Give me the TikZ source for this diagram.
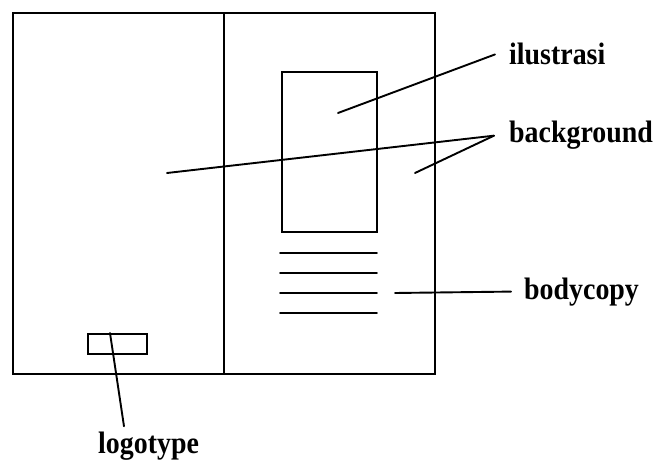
\documentclass[tikz,border=0pt]{standalone}
\usepackage{fontspec}
\setmainfont{Liberation Serif}
\newcommand{\tagtext}[1]{\scalebox{0.9}[1]{\bfseries\fontsize{31}{33}\selectfont #1}}
\begin{document}
\begin{tikzpicture}[x=1pt,y=-1pt,
  ink/.style={line width=1.8pt,line cap=round},
  leader/.style={line width=1.9pt,line cap=round},
  tag/.style={anchor=base west,inner ysep=1pt}]
\useasboundingbox (0,0) rectangle (659,465);

% spread: two pages side by side
\draw[ink] (13,13) rectangle (435,374);
\draw[ink] (224,13) -- (224,374);

% illustration block and body copy lines on the right page
\draw[ink] (282,72) rectangle (377,232);
\foreach \y in {253,273,293,313}
  \draw[ink] (280,\y) -- (377,\y);

% logotype block on the left page
\draw[ink] (88,334) rectangle (147,354);

% labels
\node[tag,inner xsep=14pt] (ilu)  at (495,65)  {\tagtext{ilustrasi}};
\node[tag,inner xsep=15pt] (bg)   at (494,143) {\tagtext{background}};
\node[tag,inner xsep=13pt] (body) at (511,299) {\tagtext{bodycopy}};
\node[tag,inner xsep=0pt,inner ysep=5pt] (logo) at (98,453) {\tagtext{logotype}};

% leader start points
\coordinate (pIlu)  at (338,113);
\coordinate (pBgL)  at (167,173);
\coordinate (pBgR)  at (415,173);
\coordinate (pBody) at (395,293);
\coordinate (pLogo) at (110,333);

% leaders
\draw[leader] (pIlu) -- (ilu.west);
\draw[leader] (pBgL) -- (bg.west);
\draw[leader] (pBgR) -- (bg.west);
\draw[leader] (pBody) -- (body.west);
\draw[leader] (pLogo) -- ([xshift=26pt]logo.north west);
\end{tikzpicture}
\end{document}
